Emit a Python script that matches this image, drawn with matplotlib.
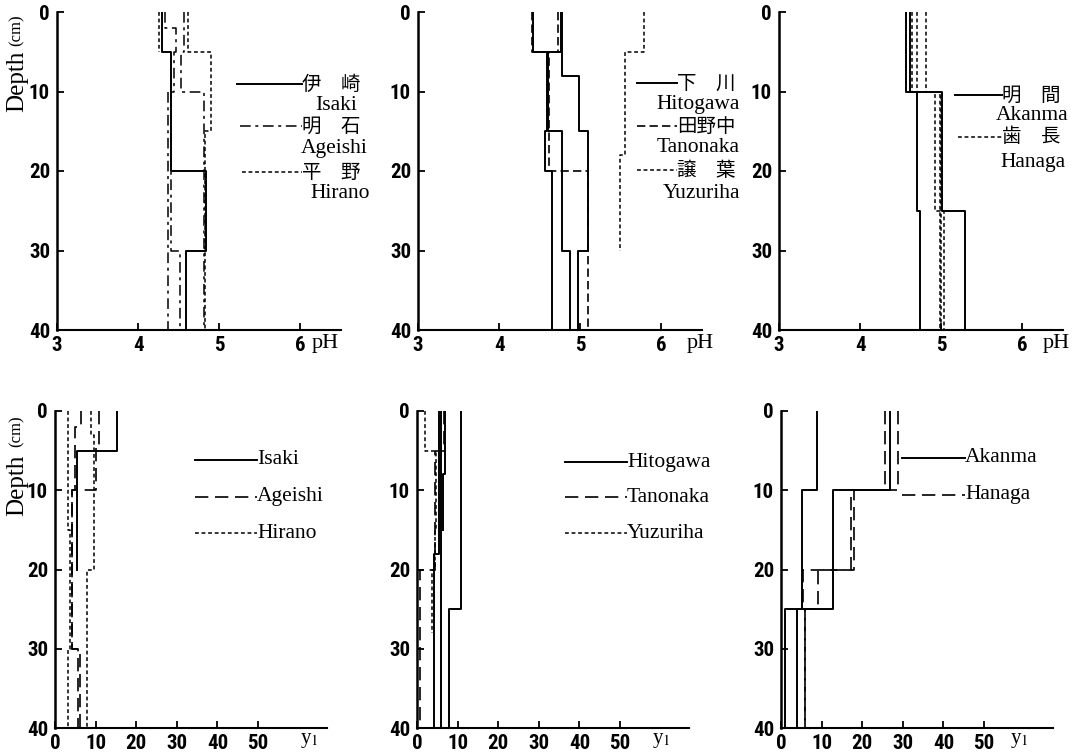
import numpy as np
import matplotlib
matplotlib.use("Agg")
import matplotlib.pyplot as plt
from matplotlib.lines import Line2D
from matplotlib import font_manager

# ---- data: depth edges (cm) and step values, one list per profile ----
# top row: pH
isaki_ph_edges = [[0, 5, 20, 30, 40]]
isaki_ph = [[4.29, 4.40, 4.84, 4.59]]
ageishi_ph_edges = [[0, 2, 5, 10, 30, 40], [0, 5, 10, 40], [10, 40]]
ageishi_ph = [[4.33, 4.47, 4.44, 4.41, 4.52], [4.56, 4.53, 4.81], [4.37]]
hirano_ph_edges = [[0, 5, 15, 40], [0, 5]]
hirano_ph = [[4.61, 4.90, 4.82], [4.26]]

hitogawa_ph_edges = [[0, 5, 15, 20, 40], [0, 5, 15, 30, 40], [0, 8, 15, 30, 40]]
hitogawa_ph = [[4.42, 4.59, 4.56, 4.65], [4.76, 4.60, 4.77, 4.87], [4.78, 4.99, 5.10, 4.97]]
tanonaka_ph_edges = [[0, 5, 20, 40], [0, 5, 15]]
tanonaka_ph = [[4.40, 4.62, 5.10], [4.73, 4.60]]
yuzuriha_ph_edges = [[0, 5, 18, 30]]
yuzuriha_ph = [[5.78, 5.55, 5.49]]

akanma_ph_edges = [[0, 10, 25, 40], [0, 10, 25, 40]]
akanma_ph = [[4.57, 4.70, 4.74], [4.62, 5.01, 5.29]]
hanaga_ph_edges = [[0, 10, 25, 40], [0, 10, 40], [0, 10, 40]]
hanaga_ph = [[4.64, 4.92, 5.03], [4.81, 5.00], [4.70, 4.99]]

# bottom row: y1
isaki_y_edges = [[0, 5, 20]]
isaki_y = [[15.2, 5.4]]
ageishi_y_edges = [[0, 2, 10, 30, 40], [0, 4.5, 10, 30, 40]]
ageishi_y = [[6.4, 5.0, 4.2, 6.2], [10.9, 10.0, 4.3, 5.6]]
hirano_y_edges = [[0, 15, 30, 40], [0, 3, 20, 40]]
hirano_y = [[3.3, 3.8, 3.3], [8.8, 9.5, 7.9]]

hitogawa_y_edges = [[0, 25, 40], [0, 40], [0, 8, 15], [0, 18, 40]]
hitogawa_y = [[10.9, 7.9], [5.8], [6.9, 6.5], [5.3, 4.2]]
tanonaka_y_edges = [[0, 5, 20, 40]]
tanonaka_y = [[6.6, 4.4, 0.7]]
yuzuriha_y_edges = [[0, 5, 15, 20, 28]]
yuzuriha_y = [[1.9, 4.8, 4.4, 3.7]]

akanma_y_edges = [[0, 10, 25, 40], [0, 10, 25, 40]]
akanma_y = [[8.8, 5.1, 1.0], [26.8, 12.8, 3.9]]
hanaga_y_edges = [[0, 10, 20, 25, 40], [0, 10, 20, 25, 40]]
hanaga_y = [[25.5, 17.2, 5.3, 5.9], [28.9, 17.9, 9.2, 6.0]]

ph_ticks = [3, 4, 5, 6]
y1_ticks = [0, 10, 20, 30, 40, 50]
depth_ticks = [0, 10, 20, 30, 40]

W, H = 1079, 753
fig = plt.figure(figsize=(W / 100, H / 100), dpi=100)
fig.patch.set_facecolor("white")

# narrow bold face for the tick numbers, if one is installed
have = {f.name for f in font_manager.fontManager.ttflist}
narrow = [n for n in ["Liberation Sans Narrow", "DejaVu Sans Condensed", "Roboto Condensed",
                      "Open Sans Condensed", "Roboto", "DejaVu Sans"] if n in have]
NUM = narrow[:1] + ["DejaVu Sans"]
SERIF = ["Liberation Serif", "DejaVu Serif"]
CJK = ["Noto Sans CJK JP", "DejaVu Sans"]

solid = dict(color="k", lw=1.4, ls="-")
dashdot = dict(color="k", lw=1.1, ls=(0, (7, 3, 2, 3)))
mdash = dict(color="k", lw=1.2, ls=(0, (5, 2.5)))
sdash = dict(color="k", lw=1.1, ls=(0, (2.5, 1.8)))
ldash = dict(color="k", lw=1.2, ls=(0, (8, 4)))


def fx(x):
    return x / W


def fy(y):
    return 1 - y / H


def px_axes(x0, y0, x1, y1):
    return fig.add_axes([fx(x0), fy(y1), (x1 - x0) / W, (y1 - y0) / H])


def steps(ax, edges_list, vals_list, style):
    for edges, vals in zip(edges_list, vals_list):
        y = np.repeat(edges, 2)[1:-1]
        x = np.repeat(vals, 2)
        ax.plot(x, y, **style)


def style_axes(ax, xlim, xticks):
    ax.set_xlim(*xlim)
    ax.set_ylim(40, 0)
    ax.set_xticks(xticks)
    ax.set_yticks(depth_ticks)
    for s in ["top", "right"]:
        ax.spines[s].set_visible(False)
    ax.spines["left"].set_linewidth(1.8)
    ax.spines["bottom"].set_linewidth(1.5)
    ax.tick_params(direction="in", length=5, width=1.3)
    ax.tick_params(axis="x", pad=4)
    ax.tick_params(axis="y", pad=5)
    for lab in ax.get_xticklabels() + ax.get_yticklabels():
        lab.set_family(NUM)
        lab.set_fontweight("bold")
        lab.set_fontsize(15)
    ax.patch.set_alpha(0)


def leg_line(x0, x1, y, style):
    fig.add_artist(Line2D([fx(x0), fx(x1)], [fy(y), fy(y)], transform=fig.transFigure, **style))


def ftext(x, y, s, fam=SERIF, size=15.5, ha="left"):
    fig.text(fx(x), fy(y), s, family=fam, fontsize=size, ha=ha, va="center")


# ---- top row (pH) ----
tops = [57, 418, 779]
axes_top = [px_axes(x0, 12, x0 + 284, 330) for x0 in tops]
steps(axes_top[0], isaki_ph_edges, isaki_ph, solid)
steps(axes_top[0], ageishi_ph_edges, ageishi_ph, dashdot)
steps(axes_top[0], hirano_ph_edges, hirano_ph, sdash)
steps(axes_top[1], hitogawa_ph_edges, hitogawa_ph, solid)
steps(axes_top[1], tanonaka_ph_edges, tanonaka_ph, mdash)
steps(axes_top[1], yuzuriha_ph_edges, yuzuriha_ph, sdash)
steps(axes_top[2], akanma_ph_edges, akanma_ph, solid)
steps(axes_top[2], hanaga_ph_edges, hanaga_ph, sdash)
for ax in axes_top:
    style_axes(ax, (3, 6.5), ph_ticks)

# ---- bottom row (y1) ----
bots = [55, 417, 781]
axes_bot = [px_axes(x0, 411, x0 + 272, 728) for x0 in bots]
steps(axes_bot[0], isaki_y_edges, isaki_y, solid)
steps(axes_bot[0], ageishi_y_edges, ageishi_y, ldash)
steps(axes_bot[0], hirano_y_edges, hirano_y, sdash)
steps(axes_bot[1], hitogawa_y_edges, hitogawa_y, solid)
steps(axes_bot[1], tanonaka_y_edges, tanonaka_y, ldash)
steps(axes_bot[1], yuzuriha_y_edges, yuzuriha_y, sdash)
steps(axes_bot[2], akanma_y_edges, akanma_y, solid)
steps(axes_bot[2], hanaga_y_edges, hanaga_y, ldash)
for ax in axes_bot:
    style_axes(ax, (0, 67), y1_ticks)

# ---- axis labels ----
for yc_depth, yc_cm in [(81, 30), (485, 431)]:
    fig.text(fx(17), fy(yc_depth), "Depth", family=SERIF, fontsize=18, rotation=90,
             ha="center", va="center")
    fig.text(fx(17), fy(yc_cm), "(cm)", family=SERIF, fontsize=12, rotation=90,
             ha="center", va="center")
for x in [312, 687, 1043]:
    ftext(x, 343, "pH", size=16)
for x in [300, 652, 1010]:
    fig.text(fx(x), fy(740), "y$_1$", family=SERIF, fontsize=15, ha="left", va="center",
             math_fontfamily="stix")

# ---- legends, top row ----
leg_line(237, 302, 84, solid)
ftext(302, 84, "伊　崎", fam=CJK, size=14)
ftext(357, 105, "Isaki", ha="right")
leg_line(240, 302, 126, dashdot)
ftext(302, 126, "明　石", fam=CJK, size=14)
ftext(368, 149, "Ageishi", ha="right")
leg_line(242, 302, 172, sdash)
ftext(302, 172, "平　野", fam=CJK, size=14)
ftext(370, 194, "Hirano", ha="right")

leg_line(637, 677, 83, solid)
ftext(677, 83, "下　川", fam=CJK, size=14)
ftext(740, 104, "Hitogawa", ha="right")
leg_line(637, 677, 126, mdash)
ftext(677, 126, "田野中", fam=CJK, size=14)
ftext(740, 148, "Tanonaka", ha="right")
leg_line(637, 677, 170, sdash)
ftext(677, 170, "譲　葉", fam=CJK, size=14)
ftext(740, 193, "Yuzuriha", ha="right")

leg_line(955, 1002, 95, solid)
ftext(1002, 95, "明　間", fam=CJK, size=14)
ftext(1068, 116, "Akanma", ha="right")
leg_line(958, 1002, 137, sdash)
ftext(1002, 137, "歯　長", fam=CJK, size=14)
ftext(1066, 163, "Hanaga", ha="right")

# ---- legends, bottom row ----
leg_line(195, 257, 460, solid)
ftext(257, 460, "Isaki")
leg_line(195, 257, 497, ldash)
ftext(257, 497, "Ageishi")
leg_line(195, 257, 533, sdash)
ftext(257, 533, "Hirano")

leg_line(565, 627, 462, solid)
ftext(627, 462, "Hitogawa")
leg_line(565, 627, 497, ldash)
ftext(627, 497, "Tanonaka")
leg_line(565, 627, 533, sdash)
ftext(627, 533, "Yuzuriha")

leg_line(902, 965, 458, solid)
ftext(965, 458, "Akanma")
leg_line(902, 965, 495, ldash)
ftext(965, 495, "Hanaga")

fig.savefig("out.png", dpi=100, facecolor="white")
